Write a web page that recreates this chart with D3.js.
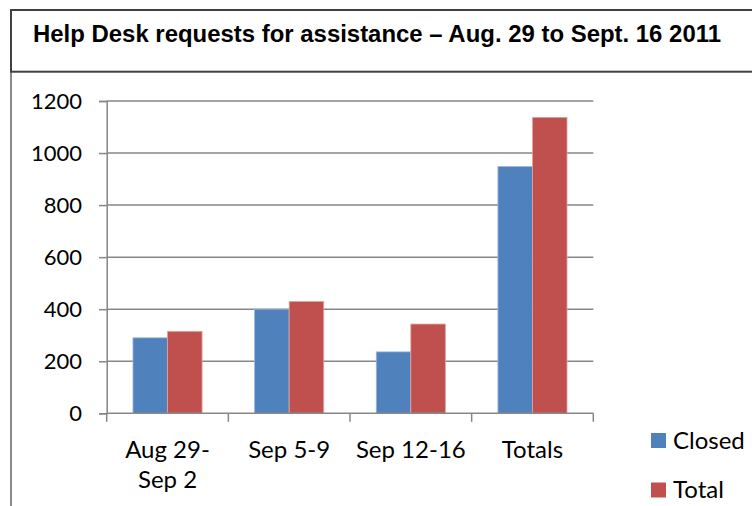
<!DOCTYPE html>
<html>
<head>
<meta charset="utf-8">
<script src="https://cdn.jsdelivr.net/npm/d3@7"></script>
<style>
  html, body { margin: 0; padding: 0; background: #fff; }
  svg { display: block; }
</style>
</head>
<body>
<svg id="chart" width="752" height="506"></svg>
<script>
// ---- data ----
const title = "Help Desk requests for assistance \u2013 Aug. 29 to Sept. 16 2011";
const categories = ["Aug 29-\nSep 2", "Sep 5-9", "Sep 12-16", "Totals"];
const seriesNames = ["Closed", "Total"];
const closedValues = [290, 400, 236, 948];
const totalValues = [315, 430, 343, 1137];
const yTicks = [0, 200, 400, 600, 800, 1000, 1200];
const colors = ["#4F81BD", "#C0504D"];
const strokeColors = ["#9bb7dc", "#e3a3a1"];

const svg = d3.select("#chart");
const W = 752, H = 506;

// frame
const frameX = 11, frameTop = 10, titleBottom = 71.7;
svg.append("line").attr("x1", frameX).attr("x2", frameX).attr("y1", titleBottom).attr("y2", H)
  .attr("stroke", "#8a8a8a").attr("stroke-width", 2);
svg.append("rect").attr("x", frameX).attr("y", frameTop).attr("width", W - frameX + 5).attr("height", titleBottom - frameTop)
  .attr("fill", "none").attr("stroke", "#404040").attr("stroke-width", 2);

svg.append("text").attr("x", 33).attr("y", 42)
  .attr("font-family", "Liberation Sans, Arial, sans-serif").attr("font-weight", "bold")
  .attr("font-size", 23).attr("textLength", 688).attr("lengthAdjust", "spacingAndGlyphs")
  .attr("fill", "#000").text(title);

// plot area
const left = 106.7, right = 593.3, y0 = 413.3, yTop = 101;
const y = d3.scaleLinear().domain([0, 1200]).range([y0, yTop]);
const x = d3.scaleBand().domain(categories).range([left, right]).paddingInner(0).paddingOuter(0);
const xs = d3.scaleBand().domain(seriesNames).range([x.bandwidth() * 0.216, x.bandwidth() * 0.784]).padding(0);

const grid = "#878787";
// gridlines
svg.append("g").selectAll("line").data(yTicks.filter(d => d > 0)).join("line")
  .attr("x1", left).attr("x2", right).attr("y1", d => y(d)).attr("y2", d => y(d))
  .attr("stroke", grid).attr("stroke-width", 1.5);

// bars
const rows = categories.map((c, i) => ({ cat: c, vals: [closedValues[i], totalValues[i]] }));
const gBars = svg.append("g");
rows.forEach(r => {
  r.vals.forEach((v, j) => {
    gBars.append("rect")
      .attr("x", x(r.cat) + xs(seriesNames[j]))
      .attr("y", y(v))
      .attr("width", xs.bandwidth())
      .attr("height", y0 - y(v))
      .attr("fill", colors[j])
      .attr("stroke", strokeColors[j]).attr("stroke-width", 0.8);
  });
});

// y axis
const yAxis = d3.axisLeft(y).tickValues(yTicks).tickSize(7.7).tickPadding(17).tickFormat(d3.format("d"));
const gy = svg.append("g").attr("transform", `translate(${left},0)`).call(yAxis);
gy.select(".domain").attr("stroke", grid).attr("stroke-width", 1.5);
gy.selectAll(".tick line").attr("stroke", grid).attr("stroke-width", 1.5);
gy.selectAll(".tick text").attr("font-family", "Lato, sans-serif").attr("font-size", 22).attr("fill", "#000");

// x axis line + ticks at band boundaries
const gx = svg.append("g");
gx.append("line").attr("x1", left).attr("x2", right).attr("y1", y0).attr("y2", y0)
  .attr("stroke", grid).attr("stroke-width", 1.5);
const bounds = categories.map(c => x(c)).concat([x(categories[categories.length - 1]) + x.bandwidth()]);
gx.selectAll("line.t").data(bounds).join("line").attr("class", "t")
  .attr("x1", d => d).attr("x2", d => d).attr("y1", y0).attr("y2", y0 + 8.5)
  .attr("stroke", grid).attr("stroke-width", 1.5);

const labels = gx.selectAll("text.cl").data(categories).join("text").attr("class", "cl")
  .attr("x", d => x(d) + x.bandwidth() / 2).attr("y", 458)
  .attr("text-anchor", "middle").attr("font-family", "Lato, sans-serif").attr("font-size", 24).attr("fill", "#000");
labels.each(function(d) {
  const parts = d.split("\n");
  const t = d3.select(this);
  parts.forEach((p, i) => {
    t.append("tspan").attr("x", x(d) + x.bandwidth() / 2).attr("dy", i === 0 ? 0 : 30).text(p);
  });
});

// legend
const lg = svg.append("g");
seriesNames.forEach((s, i) => {
  lg.append("rect").attr("x", 651).attr("y", 433 + i * 49.5).attr("width", 15).attr("height", 15).attr("fill", colors[i]);
  lg.append("text").attr("x", 673).attr("y", 448.5 + i * 49.5)
    .attr("font-family", "Lato, sans-serif").attr("font-size", 24).attr("fill", "#000").text(s);
});
</script>
</body>
</html>
